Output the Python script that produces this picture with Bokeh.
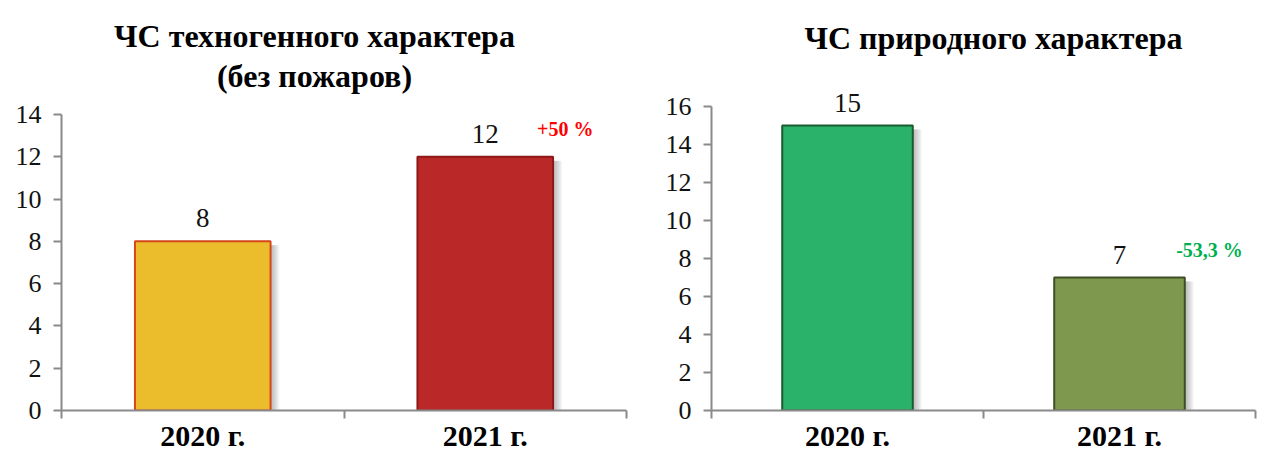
from bokeh.plotting import figure
from bokeh.models import Range1d, FixedTicker, Label
from bokeh.layouts import row
from bokeh.transform import dodge
from bokeh.core.properties import value
from bokeh.embed import file_html
from bokeh.resources import INLINE
import numpy as np

years = ["2020 г.", "2021 г."]

tech_values = [8, 12]
tech_colors = ["#EBBD2D", "#BB2828"]
tech_borders = ["#D6461B", "#8E1818"]
tech_change = "+50 %"
tech_title = ["ЧС техногенного характера", "(без пожаров)"]
tech_axis_max = 14

nat_values = [15, 7]
nat_colors = ["#2AB16A", "#7E984D"]
nat_borders = ["#1B5B30", "#3E4E24"]
nat_change = "-53,3 %"
nat_title = ["ЧС природного характера"]
nat_axis_max = 16

FONT = "Liberation Serif"
AXIS_GREY = "#8A8A8A"
FRAME_H = 410
TOP = 0
BOTTOM = 44


def make_chart(vals, colors, borders, change, change_color, titles, axis_max,
               axis_px, frame_w, border_left, title_x, title_ys, change_dx):
    n = len(years)
    xs = list(np.arange(n) + 0.5)
    yend = axis_max * FRAME_H / axis_px
    p = figure(x_range=Range1d(0, n), y_range=Range1d(0, yend),
               frame_width=frame_w, frame_height=FRAME_H,
               min_border_left=border_left, min_border_right=4,
               min_border_top=TOP, min_border_bottom=BOTTOM,
               output_backend="svg", toolbar_location=None,
               background_fill_color="white", border_fill_color="white")
    p.outline_line_color = None
    p.xgrid.visible = False
    p.ygrid.visible = False

    src = dict(x=xs, top=vals, color=colors, border=borders,
               lbl=[str(v) for v in vals],
               stop=[v - axis_max * 0.013 for v in vals])
    # soft shadow layers
    for i in range(1, 9):
        p.vbar(x=dodge("x", i * 1.1 / frame_w * n, range=p.x_range),
               top="stop", bottom=0, width=0.48,
               source=src, fill_color="#555555",
               fill_alpha=0.06, line_color=None)
    p.vbar(x="x", top="top", bottom=0, width=0.48, source=src,
           fill_color="color", line_color="border", line_width=2)
    p.text(x="x", y="top", text="lbl", source=src, y_offset=-23,
           text_align="center", text_baseline="middle",
           text_font=value(FONT), text_font_size="27px", text_color="#111111")
    p.text(x=[xs[-1]], y=[vals[-1]], text=[change], x_offset=change_dx,
           y_offset=-28, text_align="center", text_baseline="middle",
           text_font=value(FONT), text_font_size="20px",
           text_font_style="bold", text_color=change_color)

    xa = p.xaxis[0]
    xa.ticker = FixedTicker(ticks=xs, minor_ticks=list(range(n + 1)))
    xa.major_label_overrides = {x: y for x, y in zip(xs, years)}
    xa.major_tick_line_color = None
    xa.minor_tick_in = 0
    xa.minor_tick_out = 8
    xa.minor_tick_line_color = AXIS_GREY
    xa.minor_tick_line_width = 2
    xa.axis_line_color = AXIS_GREY
    xa.axis_line_width = 2
    xa.major_label_standoff = 0
    xa.major_label_text_font = FONT
    xa.major_label_text_font_size = "30px"
    xa.major_label_text_font_style = "bold"
    xa.major_label_text_color = "#000000"

    ya = p.yaxis[0]
    ya.bounds = (0, axis_max)
    ya.ticker = FixedTicker(ticks=list(range(0, axis_max + 1, 2)))
    ya.minor_tick_line_color = None
    ya.major_tick_in = 0
    ya.major_tick_out = 8
    ya.major_tick_line_color = AXIS_GREY
    ya.major_tick_line_width = 2
    ya.axis_line_color = AXIS_GREY
    ya.axis_line_width = 2
    ya.major_label_standoff = 12
    ya.major_label_text_font = FONT
    ya.major_label_text_font_size = "26px"
    ya.major_label_text_color = "#111111"

    for t, ty in zip(titles, title_ys):
        p.add_layout(Label(x=title_x, y=ty, x_units="screen",
                           y_units="screen", text=t, text_align="center",
                           text_baseline="alphabetic", text_font=FONT,
                           text_font_size="32px", text_font_style="bold",
                           text_color="#000000"))
    return p


p1 = make_chart(tech_values, tech_colors, tech_borders, tech_change, "#FF0000",
                tech_title, tech_axis_max, 296, 565, 61, 253, [375, 335], 80)
p2 = make_chart(nat_values, nat_colors, nat_borders, nat_change, "#00B050",
                nat_title, nat_axis_max, 304, 544, 81, 282, [373], 90)

layout = row(p1, p2)
open("out.html", "w").write(file_html(layout, INLINE))
